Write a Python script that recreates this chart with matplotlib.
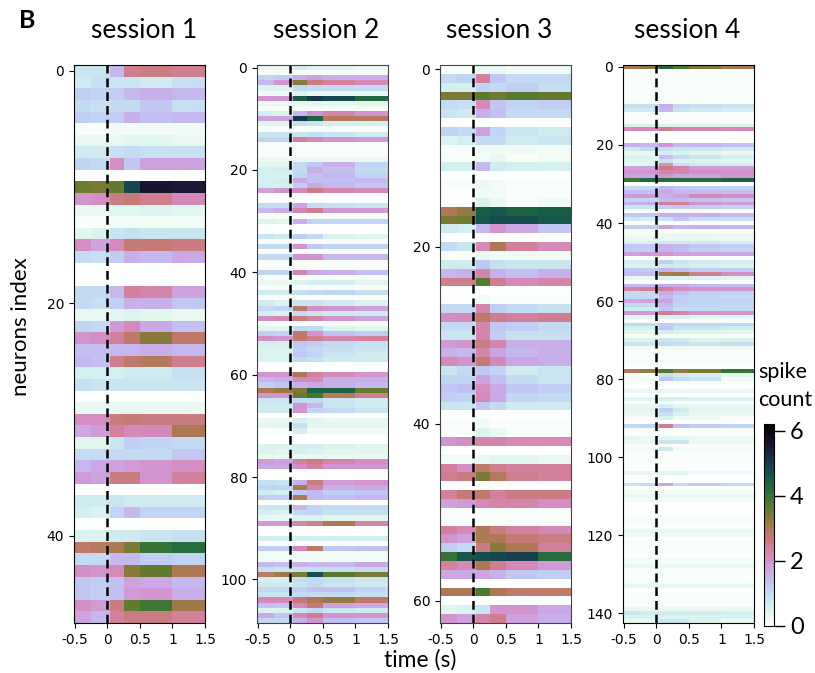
import numpy as np
import matplotlib
matplotlib.use("Agg")
import matplotlib.pyplot as plt

# time bins of the coarse readout (s)
time_edges = [-0.5, -0.25, 0.05, 0.25, 0.5, 1.0, 1.5]

# quiet rows that read the same in all bins
e = [0.03] * 6
q = [0.1] * 6

session1 = [
    [.8, .8, 1.5, 2.5, 2.6, 2.5], [.7, .9, .8, .8, .7, .9], [1.2, 1.1, 1.2, 1.5, 1.6, 1.5], [1, .9, 1, 1, 1.3, .9],
    [1.2, 1.1, 1.2, 1.6, 1.4, 1.5], [.1, .1, .2, .2, .2, .2], [.3, .3, .3, .4, .4, .3], [.7, .7, .9, 1, .9, .9],
    [1.1, 1, 2.1, 1.3, 1.8, 1.8], e, [3.5, 3.4, 3.6, 4.8, 5.6, 5.5], [2, 2.1, 2.6, 2.7, 2.5, 2.2],
    [.3, .3, .4, .4, .5, .4], [.1, .1, .2, .2, .2, .2], [.4, .5, .8, .9, .8, .8], [2.1, 1.8, 2.2, 2.7, 2.7, 2.6],
    [1, .9, 1.2, 1.6, 1.5, 1.7], e, e, [1, 1, 1.5, 2.4, 2.3, 1.8],
    [1, .9, 1.2, 1.6, 1.6, 1.3], [.3, .3, .4, .5, .4, .3], [1.1, 1, 1.9, 2.2, 1.7, 1.4], [2, 2.1, 2.4, 2.8, 3.3, 2.8],
    [1.4, 1.4, 1.5, 1.5, 1.6, 1.5], [1.5, 1.4, 2.5, 2.8, 2.9, 2.5], [.6, .6, .6, .7, .7, .9], [.9, .8, .8, .8, .8, .8],
    e, [.3, .3, .3, .3, .3, .3], [2.1, 2.1, 2.6, 2.7, 2.6, 2.6], [1.7, 1.9, 2.4, 2.2, 2.2, 3],
    [.4, .4, .8, 1.2, 1.1, 1], [1, 1, 1, 1, 1, 1.3], [1.5, 1.7, 1.8, 1.9, 2, 2.1], [1.9, 1.8, 2.6, 2.6, 2, 2.4],
    e, [.7, .7, .8, .7, .7, .7], [.6, .5, 1.1, 1.5, 1.1, 1.1], e,
    [.5, .5, .7, .7, .8, .9], [2.8, 2.9, 3, 3.4, 4, 4.2], [1, 1, 1.5, 1.5, 1.2, 1.1], [2.1, 2, 2.2, 3.3, 3.6, 3],
    [1.3, 1.2, 1.4, 1.8, 1.7, 1.5], [1.3, 1.2, 1.4, 1.9, 2, 1.6], [2.1, 1.9, 2.6, 3.6, 3.9, 3.1], [1.8, 1.5, 2.4, 2.6, 2.6, 2.4],
]

session2 = [
    [.3, .3, .6, .4, .4, .3], q, [1.1, 1.2, 1.6, 1.8, 1.6, 1.6], [1.5, 2, 3.3, 2.6, 2.4, 2.2],
    [.5, .5, 1, 1, 1, 1], [.2, .2, .5, .3, .3, .3], [2, 2, 4.5, 5, 4.8, 4.3], [.3, .3, .3, .4, .4, .4],
    q, [.6, .5, 1.5, 2, 2.3, 2], [1.8, 1.8, 5, 4.4, 2.9, 2.9], [.4, .4, .9, .8, .6, .6],
    q, [.8, .8, .8, .9, .8, .7], [1.1, 1.1, 2.4, 2.2, 2, 1.9], q,
    q, q, [.3, .3, .3, .3, .3, .3], [.4, .4, 1, 1.3, 1.6, 1.1],
    [.6, .6, 1, 1.6, 1.4, 1], [.6, .5, 1.1, 1.4, 1.5, 1.1], [.6, .6, 1.7, 1.4, 1.4, 1.5], [.6, .6, 1.2, 1.7, 1.5, 1.3],
    [1.8, 2, 2.2, 2.6, 2.3, 2.2], e, e, [1, 1, 1.8, 1, .9, .8],
    [1.5, 1.6, 2.3, 2.5, 1.9, 1.9], q, [.5, .4, 1.6, 1.1, 1.1, 1.1], e,
    e, [.8, .7, 1.2, 1, .5, .4], q, [1, 1, 2, 1.3, 1.1, 1.1],
    q, [1, 1, 2, 2, 1.5, 1.5], q, q,
    [1.1, 1.1, 2.3, 1.7, 1.6, 1.4], q, [.3, .3, .5, .6, .6, .4], q,
    [.7, .7, .9, 1, 1.1, .9], q, [.7, .5, .8, .8, .7, .5], [1, 1.1, 2.8, 2.1, 2, 1.8],
    [.6, .5, 1, .8, .7, .7], [2.1, 2.2, 2.6, 2.3, 2, 1.8], q, [.4, .4, 1, 1, .5, .4],
    [1.2, 1.1, 2.8, 2, 1.4, 1.2], [2.1, 2, 2.8, 2.5, 2.3, 2.4], [.6, .6, 1.3, 1.2, 1, .9], [.5, .5, 1.2, 1, .9, .8],
    [.5, .5, 1.3, 1.1, .8, .7], [.5, .5, 1, .9, .7, .7], e, e,
    [2, 2, 3, 2.4, 2.2, 2], [1.5, 1.6, 2.2, 2.2, 1.6, 1.6], [1.2, 1.3, 1.6, 1.7, 1.6, 1.5], [3, 3.2, 3.4, 4.4, 4.4, 3.6],
    [2, 2, 3.6, 3.9, 2.9, 2.5], [.8, .8, 1, 1, .8, .7], [.7, .7, 2, 1.5, .8, .7], [.7, .7, 2, 1.1, 1, .8],
    e, [.3, .3, .6, .4, .3, .3], [.4, .4, .9, .4, .4, .4], [.1, .1, .6, .2, .2, .2],
    e, e, [.5, .5, .6, .6, .5, .4], [.5, .4, .6, .5, .4, .4],
    [.3, .3, .3, .3, .3, .3], [1.9, 1.8, 2.4, 2.6, 2.3, 2.1], [1.7, 1.7, 2.1, 2.4, 2, 2], e,
    e, [.9, .8, 1.6, 2.6, 1.9, 2], [1.1, 1.1, 3, 2.3, 1.6, 1.7], [.7, .6, 1.3, 1.5, 1.2, 1.3],
    [1.2, 1.2, 3, 1.5, 1.4, 1.5], e, [.8, .8, 1.5, 1.1, 1, 1], [.6, .5, 1, 1.1, .9, .9],
    [.3, .3, .5, .5, .4, .4], [1.9, 1.9, 2.3, 2.5, 3, 2.3], e, e,
    [.6, .6, .6, .6, .6, .6], q, [1.2, 1.2, 2.2, 2.8, 1.3, 1.4], [.2, .2, .2, .2, .2, .2],
    [.2, .2, .2, .2, .2, .2], [1.5, 1.4, 1.6, 1.5, 1.5, 1.7], [.9, .8, .9, .9, .9, 1], [2.8, 3.1, 3.4, 4.7, 3.7, 3.4],
    [.6, .6, 1, 1, .9, .8], [.7, .7, .8, 1, .8, .7], [1, 1, 1.2, 1.4, 1.4, 1.1], [.8, .8, 1, 1, 1, .9],
    [2.2, 2.2, 2.7, 3, 3.2, 2.8], [1.4, 1.3, 2.2, 2.7, 1.8, 1.7], [.5, .5, .8, 1, .8, .7], [1.7, 1.3, 2.2, 2.5, 2, 2],
    [1, 1, 1.6, 2, 1.4, 1.3],
]

session3 = [
    [.1, .1, .3, .3, .2, .2], [1, 1.1, 2.4, 1.3, 1, 1], [.6, .6, 1.1, 1, 1.2, .9], [3.4, 3.4, 3.7, 3.5, 3.7, 3.6],
    [1, .9, 2.2, 1.3, 1.1, 1.2], [.8, .7, 1.6, 1.4, 1, 1], e, [1.1, 1, 1.8, 1.1, .8, .7],
    [.5, .6, 1, 1, .7, .8], [.1, .1, .2, .2, .2, .2], [.1, .1, .2, .3, .1, .2], [.6, .6, 1.5, .7, .6, .6],
    e, [.1, .1, .3, .2, .1, .1], [.05, .05, .2, .2, .1, .1], [.05, .05, .5, .3, .1, .2],
    [3, 3.2, 4.5, 4.6, 4.4, 4.5], [3.4, 3.5, 4.6, 4.7, 4.7, 4.6], [.7, .6, 1.5, 2, 1.7, 1.3], e,
    [1, .8, 2.2, 3, 2.4, 2.2], [.1, .1, .3, .2, .2, .2], [.7, .7, 1.3, .9, .8, .8], [1.5, 1.6, 2.3, 1.6, 1.4, 1.6],
    [2.5, 2.5, 3.7, 2.5, 2.2, 2.3], e, [.05, .05, .2, .1, .1, .1], [1, 1, 2.3, 1.2, 1, .9],
    [2.1, 2.2, 2.8, 2.5, 2.4, 2.5], [1, 1, 2.3, 1.3, 1.2, 1], [.8, .8, 2.3, 1.2, .9, .9], [1.9, 2, 2.6, 2.3, 1.6, 1.6],
    [1.6, 1.5, 2.3, 1.8, 1.5, 1.6], [2.2, 2, 2.7, 2.2, 1.7, 1.6], [.8, 1, 1.3, 1.1, .7, .8], [1.1, 1.1, 1.8, 1.4, 1, .8],
    [1.3, 1.4, 2.1, 1.7, 1.3, 1.2], [1.2, 1.1, 2.2, 1.7, 1.1, 1], [.8, .8, 1.3, 1, .7, .7], e,
    [.1, .1, .2, .1, .1, .1], [.1, .1, .5, .3, .1, .1], [2, 2.1, 2.3, 2.3, 2.2, 2.2], e,
    [.2, .2, .3, .4, .4, .3], [2.4, 2.1, 2.8, 2.5, 2.4, 2.4], [2.5, 2.6, 3.4, 2.9, 2.5, 2.4], e,
    [2.4, 2.7, 2.8, 2.4, 2.6, 2.6], [1.8, 1.9, 2.2, 2.3, 2.3, 2.1], q, q,
    [2.4, 2.2, 3, 2.6, 2.4, 2.2], [2, 1.8, 3, 3, 2.7, 2.6], [1.2, 1, 2.6, 3.3, 3, 2.4], [4, 4.6, 4.7, 4.8, 4.9, 4.2],
    [2.4, 2.2, 3, 2.5, 2.2, 1.9], [1.7, 1.7, 1.8, 1.6, 1.3, 1.2], e, [3, 3, 3.8, 3, 2.8, 2.8],
    e, [.4, .5, .8, 2, 2, 1.7], [2, 1.8, 2.3, 2.5, 1.8, 1.6],
]

session4 = [
    [3, 3.2, 4.3, 3.8, 3.4, 3], q, q, q, q, q, q, q, q, [.2, .1, .2, .1, .1, .1],
    [.9, .9, 1.6, 1, .9, .8], [.7, .7, 1.5, .8, .7, .6], q, q, q,
    [.5, .5, .5, .5, .5, .5], [2.2, 2.2, 2.5, 2.3, 2.3, 2.2], e, e, e,
    [1.6, 1.5, 2, 1.5, 1.5, 1.4], [.7, 1, .9, .8, .8, .7], [.3, .3, .6, .5, .4, .3], [.5, .5, 1.4, 1, .8, .6],
    [.4, .4, .8, .5, .5, .4], [.3, .4, 2.1, .9, .7, .6], [1.8, 1.8, 2.6, 2.3, 1.9, 1.9], [2, 2, 2.3, 2.3, 2.1, 2],
    [1.8, 1.8, 2, 1.8, 1.8, 2], [3.9, 4.3, 4.2, 4.2, 4.2, 4.4], e, [1, 1, 1.5, 1.3, 1.2, 1.1],
    [1.4, 1.4, 1.7, 1.5, 1.5, 1.4], [1.9, 1.9, 1.6, 1.8, 2.2, 2.1], [1.1, 1.1, 1.5, 1.5, 1.4, 1.3], [1.6, 1.6, 2.4, 2.4, 2, 1.9],
    [.8, .8, 1.2, 1.3, 1.2, 1.1], q, [1.3, 1.3, 1.6, 1.6, 1.6, 1.5], [.7, .6, .8, 1.3, .9, .9],
    q, [1.2, 1.2, 1.8, 1.5, 1.6, 1.5], q, [.2, .2, .3, .3, .3, .3],
    [.3, .3, .3, .3, .3, .3], [.5, .5, .7, .7, .7, .6], [1.3, 1.3, 1.6, 1.5, 1.3, 1.2], [1.2, 1.2, 1.6, 1.4, 1.2, 1.1],
    [1.8, 1.9, 2, 1.8, 1.8, 1.7], e, [.6, .6, 1.2, .8, .7, .6], [.5, .5, .7, .7, .6, .5],
    [1.3, 1.2, 1.6, 1.4, 1.2, 1.2], [1.4, 1.4, 3, 3.1, 2.5, 2.1], [.3, .3, .5, .5, .5, .4], e,
    [1.5, 1.5, 1.7, 1.7, 1.5, 1.4], [2.3, 2.4, 2.4, 2.1, 2, 2], [1, 1, 1.7, 1.4, 1.2, 1.1], [1, 1, 1.5, 1.2, 1.1, 1],
    [1.7, 1.8, 1.8, 1.2, 1.1, 1.1], [1, 1, 1.5, 1.1, 1.1, 1], [.7, .7, 1.3, 1, 1, 1], [1.9, 1.9, 2.5, 2.3, 2, 2],
    [.4, .4, .5, .5, .4, .4], q, [1, 1, 1.2, 1.1, 1.1, 1.1], [.6, .6, 1.3, .8, .8, .7],
    [.4, .4, .6, .5, .5, .4], q, [.5, .5, .8, .7, .5, .5], [.8, .8, 1, .9, .8, .9],
    [.2, .2, .2, .2, .2, .2], q, q, q, q, e,
    [2.9, 3.2, 3.8, 3.2, 3.4, 4], [.1, .1, .9, .7, .6, .4], [.2, .2, 1.3, 1, .8, .2], q,
    e, [.3, .3, .3, .3, .3, .3], e, [.4, .4, .6, .6, .5, .5],
    e, [.3, .3, .6, .4, .3, .3], [.4, .4, 1.2, .7, .4, .4], [.3, .3, .9, .5, .3, .3],
    [.1, .1, .5, .2, .2, .1], e, [1, 1.1, 2.5, 1.4, 1.2, 1.1], q,
    q, [.4, .3, .4, .4, .3, .3], [.3, .3, .8, .8, .3, .3], q,
    [.2, .2, .7, .2, .2, .2], q, q, q, e, e,
    [.3, .3, .4, .4, .2, .2], e, e, [.8, 1, 1.8, 1, 1.2, 1], e,
    [.2, .2, .2, .2, .2, .2], [.3, .3, .3, .3, .3, .3], [.2, .2, .2, .2, .2, .2], e, e,
    e, q, q, q, e, [.3, .3, .3, .3, .3, .3],
    [.2, .2, .2, .2, .2, .2], e, q, q, q, e,
    [.15, .15, .15, .15, .15, .15], [.15, .15, .15, .15, .15, .15], [.3, .3, .3, .3, .3, .3], q, q, q, q,
    [.35, .35, .35, .35, .35, .35], e, q, q, q, q, [.3, .3, .3, .3, .3, .3],
    [.8, .7, .7, .7, .7, .6], [.5, .5, .5, .5, .5, .5], [.3, .3, .8, .8, .5, .3],
]

sessions = [session1, session2, session3, session4]
titles = ["session 1", "session 2", "session 3", "session 4"]
yticks = [[0, 20, 40], [0, 20, 40, 60, 80, 100], [0, 20, 40, 60], [0, 20, 40, 60, 80, 100, 120, 140]]
xticks = [-0.5, 0, 0.5, 1, 1.5]
xticklabels = ["-0.5", "0", "0.5", "1", "1.5"]
lefts = [74, 257, 440, 623]
title_x = [144, 326, 499.5, 687.5]
spine_colors = ["black", "#444444", "#444444", "black"]

W, H = 815, 673
text_font = "Lato"
vmax = 6.2

fig = plt.figure(figsize=(W / 100, H / 100), dpi=100)

for i, data in enumerate(sessions):
    ax = fig.add_axes([lefts[i] / W, 1 - 623 / H, 131 / W, 558 / H])
    arr = np.array(data)
    ny = arr.shape[0]
    mesh = ax.pcolormesh(time_edges, np.arange(ny + 1) - 0.5, arr, cmap="cubehelix_r", vmin=0, vmax=vmax)
    ax.set_xlim(-0.51, 1.5)
    ax.set_ylim(ny - 0.5, -0.5)
    ax.axvline(0, color="black", ls=(0, (3.5, 2)), lw=1.8)
    ax.set_xticks(xticks)
    ax.set_xticklabels(xticklabels)
    ax.set_yticks(yticks[i])
    ax.tick_params(labelsize=10)
    for s in ax.spines.values():
        s.set_color(spine_colors[i])
    fig.text(title_x[i] / W, 1 - 30 / H, titles[i], ha="center", va="center", fontsize=19, family=text_font)

fig.text(27 / W, 1 - 20 / H, "B", ha="center", va="center", fontsize=18, fontweight="bold", family=text_font)
fig.text(21 / W, 1 - 327 / H, "neurons index", rotation=90, ha="center", va="center", fontsize=16, family=text_font)
fig.text(420 / W, 1 - 660 / H, "time (s)", ha="center", va="center", fontsize=16.5, family=text_font)
fig.text(758 / W, 1 - 372 / H, "spike", ha="left", va="center", fontsize=15.5, family=text_font)
fig.text(758 / W, 1 - 400 / H, "count", ha="left", va="center", fontsize=15.5, family=text_font)

cax = fig.add_axes([764 / W, 1 - 626 / H, 10 / W, 202 / H])
cb = fig.colorbar(mesh, cax=cax)
cb.set_ticks([0, 2, 4, 6])
cb.ax.tick_params(length=8, width=1, labelsize=17)
for t in cb.ax.get_yticklabels():
    t.set_family(text_font)

fig.savefig("out.png", dpi=100)
